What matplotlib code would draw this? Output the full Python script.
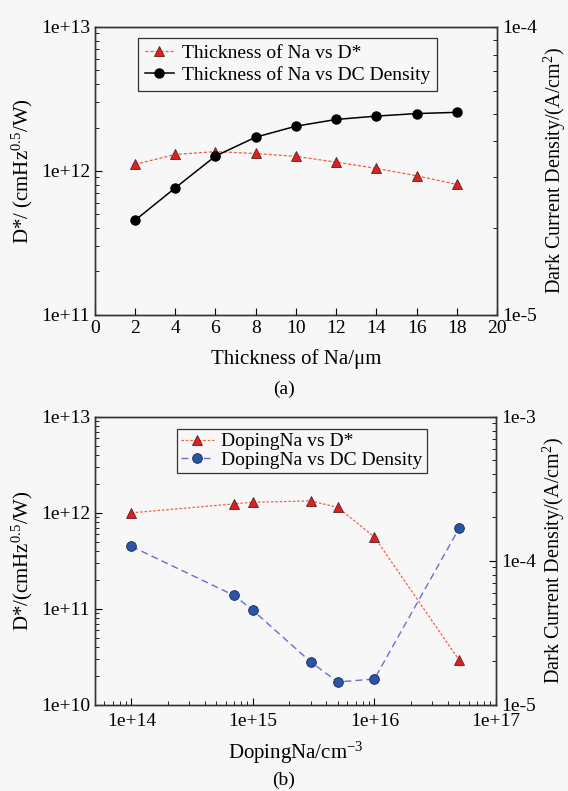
import matplotlib
matplotlib.use("Agg")
import matplotlib.pyplot as plt
from matplotlib.ticker import FixedLocator, FuncFormatter, LogLocator, NullFormatter
import numpy as np

plt.rcParams['font.family'] = ['Liberation Serif', 'DejaVu Serif']
plt.rcParams['mathtext.fontset'] = 'custom'
plt.rcParams['mathtext.rm'] = 'Liberation Serif'
plt.rcParams['mathtext.it'] = 'Liberation Serif:italic'
plt.rcParams['font.size'] = 14

# (a) thickness sweep
thickness = [2, 4, 6, 8, 10, 12, 14, 16, 18]
dstar_thick = [1.11e12, 1.30e12, 1.36e12, 1.32e12, 1.26e12, 1.15e12, 1.04e12, 0.925e12, 0.805e12]
dc_thick = [2.13e-5, 2.76e-5, 3.56e-5, 4.14e-5, 4.52e-5, 4.77e-5, 4.90e-5, 5.00e-5, 5.05e-5]

# (b) doping sweep
doping = [1e14, 7e14, 1e15, 3e15, 5e15, 1e16, 5e16]
dstar_dop = [1.0e12, 1.24e12, 1.29e12, 1.33e12, 1.14e12, 5.6e11, 2.9e10]
dc_dop = [1.26e-4, 5.75e-5, 4.53e-5, 1.98e-5, 1.44e-5, 1.51e-5, 1.69e-4]

bg = '#f7f7f7'
red_line = '#f0603c'
red_mk = '#e02020'
blue_line = '#6c6cd6'
blue_mk = '#2a54a8'


def sci(v, pos):
    e = int(round(np.log10(v)))
    return '1e+%d' % e if e >= 0 else '1e%d' % e


def style(ax, side):
    ax.tick_params(which='both', direction='in', top=False, labelsize=14)
    ax.tick_params(which='major', length=5, width=0.8)
    ax.tick_params(which='minor', length=3, width=0.6)
    if side == 'left':
        ax.tick_params(which='both', right=False)
    for s in ax.spines.values():
        s.set_color('#333333')
        s.set_linewidth(1.0)


def log_axis(axis, majors):
    axis.set_major_locator(FixedLocator(majors))
    axis.set_major_formatter(FuncFormatter(sci))
    axis.set_minor_locator(LogLocator(subs=np.arange(2, 10)))
    axis.set_minor_formatter(NullFormatter())


fig = plt.figure(figsize=(5.68, 7.91), dpi=100, facecolor=bg)

# ---- top panel ----
ax1 = fig.add_axes([0.167, 0.602, 0.708, 0.364], facecolor=bg)
ax1r = ax1.twinx()
l1, = ax1.plot(thickness, dstar_thick, linestyle=(0, (2.5, 1.5)), color=red_line, lw=0.9,
               marker='^', ms=7.5, mfc=red_mk, mec='#5a2020', mew=0.6)
l2, = ax1r.plot(thickness, dc_thick, linestyle='-', color='black', lw=1.1,
                marker='o', ms=6.5, mfc='black', mec='black')
ax1.set_xlim(0, 20)
ax1.set_xticks(range(0, 21, 2))
ax1.set_yscale('log')
ax1.set_ylim(1e11, 1e13)
log_axis(ax1.yaxis, [1e11, 1e12, 1e13])
ax1r.set_yscale('log')
ax1r.set_ylim(1e-5, 1e-4)
log_axis(ax1r.yaxis, [1e-5, 1e-4])
style(ax1, 'left')
style(ax1r, 'right')
ax1.set_xlabel('Thickness of Na/\u03bcm', fontsize=15, labelpad=9)
ax1.set_ylabel('D*/ (cmHz$^{0.5}$/W)', fontsize=15, labelpad=4)
ax1r.set_ylabel('Dark Current Density/(A/cm$^2$)', fontsize=14.5, labelpad=4)
leg1 = ax1r.legend([l1, l2], ['Thickness of Na vs D*', 'Thickness of Na vs DC Density'],
                   loc='upper left', bbox_to_anchor=(0.107, 0.962), fontsize=14,
                   fancybox=False, edgecolor='#333333', facecolor=bg, framealpha=1,
                   handlelength=1.5, handletextpad=0.4, borderpad=0.35, labelspacing=0.2,
                   borderaxespad=0)
leg1.get_frame().set_linewidth(0.9)
fig.text(0.5, 0.508, '(a)', ha='center', va='center', fontsize=14)

# ---- bottom panel ----
ax2 = fig.add_axes([0.167, 0.109, 0.706, 0.364], facecolor=bg)
ax2r = ax2.twinx()
l3, = ax2.plot(doping, dstar_dop, linestyle=(0, (2, 1.5)), color=red_line, lw=0.9,
               marker='^', ms=7.5, mfc=red_mk, mec='#5a2020', mew=0.6)
l4, = ax2r.plot(doping, dc_dop, linestyle=(0, (5, 3)), color=blue_line, lw=1.0,
                marker='o', ms=7, mfc=blue_mk, mec='#1a2a50', mew=0.6)
ax2.set_xscale('log')
ax2.set_xlim(5e13, 1e17)
log_axis(ax2.xaxis, [1e14, 1e15, 1e16, 1e17])
ax2.set_yscale('log')
ax2.set_ylim(1e10, 1e13)
log_axis(ax2.yaxis, [1e10, 1e11, 1e12, 1e13])
ax2r.set_yscale('log')
ax2r.set_ylim(1e-5, 1e-3)
log_axis(ax2r.yaxis, [1e-5, 1e-4, 1e-3])
style(ax2, 'left')
style(ax2r, 'right')
ax2.tick_params(axis='x', which='major', pad=6)
ax2.set_xlabel('DopingNa/cm$^{-3}$', fontsize=15, labelpad=7)
ax2.set_ylabel('D*/(cmHz$^{0.5}$/W)', fontsize=15, labelpad=4)
ax2r.set_ylabel('Dark Current Density/(A/cm$^2$)', fontsize=14.5, labelpad=4)
leg2 = ax2r.legend([l3, l4], ['DopingNa vs D*', 'DopingNa vs DC Density'],
                   loc='upper left', bbox_to_anchor=(0.204, 0.958), fontsize=14,
                   fancybox=False, edgecolor='#333333', facecolor=bg, framealpha=1,
                   handlelength=1.7, handletextpad=0.4, borderpad=0.2, labelspacing=0.05,
                   borderaxespad=0)
leg2.get_frame().set_linewidth(0.9)
fig.text(0.5, 0.013, '(b)', ha='center', va='center', fontsize=14)

fig.savefig('out.png', dpi=100, facecolor=bg)
